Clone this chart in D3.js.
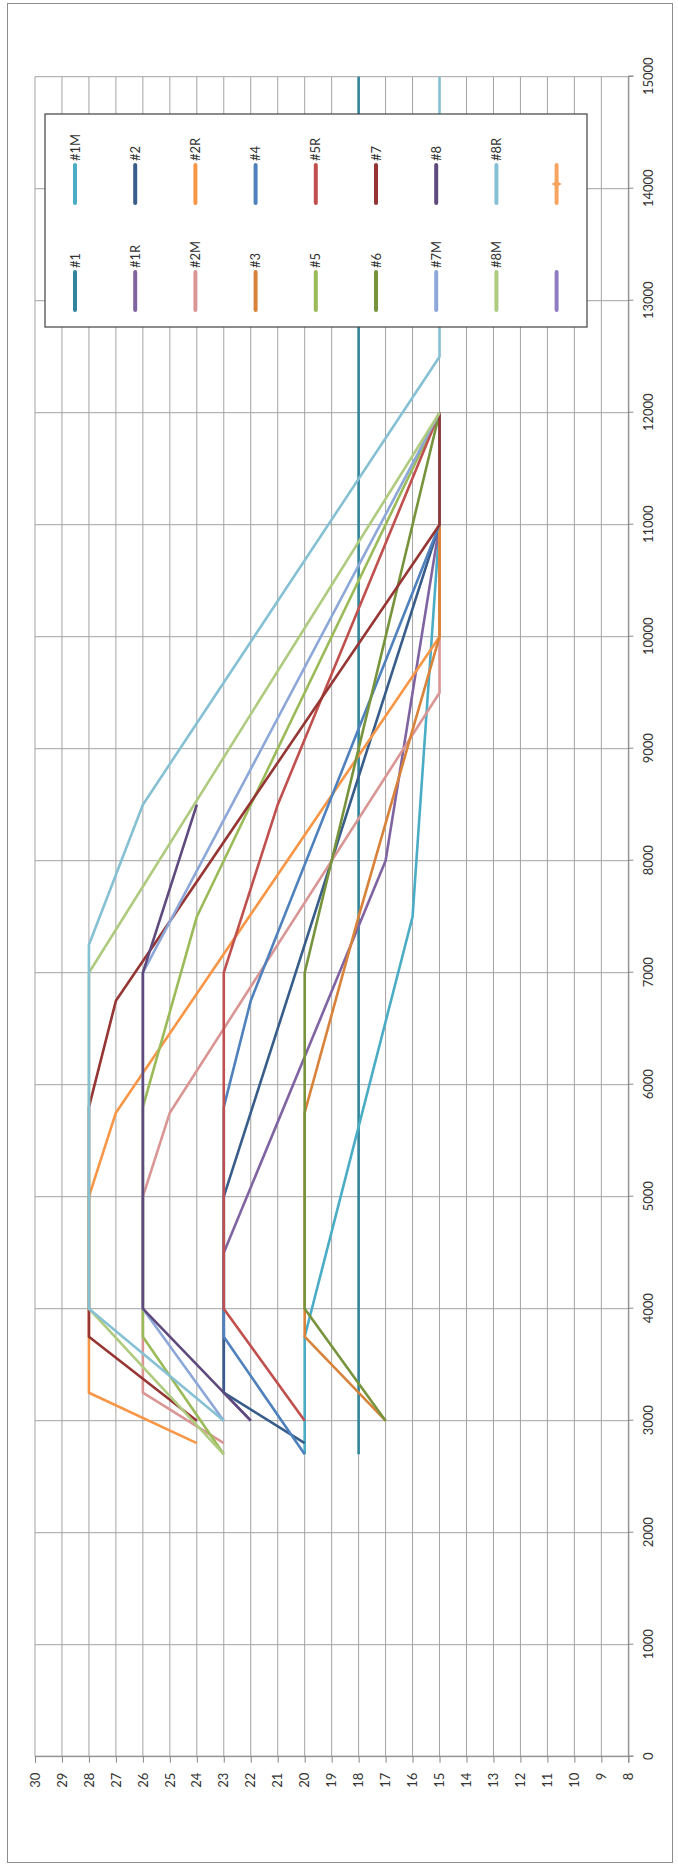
<!DOCTYPE html>
<html>
<head>
<meta charset="utf-8">
<script src="https://cdn.jsdelivr.net/npm/d3@7"></script>
<style>
  body { margin: 0; background: #fff; }
  text { font-family: Lato, "DejaVu Sans", sans-serif; fill: #333; }
</style>
</head>
<body>
<div id="chart"></div>
<script>
// DATA  (x = 0..15000 axis, value = 8..30 axis)
const xTickValues = [0, 1000, 2000, 3000, 4000, 5000, 6000, 7000, 8000, 9000, 10000, 11000, 12000, 13000, 14000, 15000];
const valueTicks = [8, 9, 10, 11, 12, 13, 14, 15, 16, 17, 18, 19, 20, 21, 22, 23, 24, 25, 26, 27, 28, 29, 30];

const seriesNames = ["#1", "#1M", "#1R", "#2", "#2M", "#2R", "#3", "#4", "#5", "#5R", "#6", "#7", "#7M", "#8", "#8M", "#8R", "", ""];

const s1  = [[2700, 18], [15000, 18]];
const s1M = [[2700, 20], [3750, 20], [7500, 16], [11000, 15], [12000, 15]];
const s1R = [[3000, 22], [3250, 23], [4500, 23], [8000, 17], [11000, 15], [12000, 15]];
const s2  = [[2800, 20], [3250, 23], [5000, 23], [6500, 21], [11000, 15], [12000, 15]];
const s2M = [[2800, 23], [3250, 26], [5000, 26], [5750, 25], [9500, 15], [12000, 15]];
const s2R = [[2800, 24], [3250, 28], [5000, 28], [5750, 27], [10000, 15], [12000, 15]];
const s3  = [[3000, 17], [3750, 20], [5750, 20], [7500, 18], [10000, 15], [12000, 15]];
const s4  = [[2700, 20], [3750, 23], [5800, 23], [6750, 22], [11000, 15], [12000, 15]];
const s5  = [[2700, 23], [3750, 26], [5800, 26], [7500, 24], [12000, 15]];
const s5R = [[3000, 20], [4000, 23], [7000, 23], [8500, 21], [12000, 15]];
const s6  = [[3000, 17], [4000, 20], [7000, 20], [12000, 15]];
const s7  = [[3000, 24], [3750, 28], [5800, 28], [6750, 27], [11000, 15], [12000, 15]];
const s7M = [[3000, 23], [4000, 26], [7000, 26], [12000, 15]];
const s8  = [[3000, 22], [3250, 23], [4000, 26], [7000, 26], [8500, 24]];
const s8M = [[2700, 23], [4000, 28], [7000, 28], [12000, 15]];
const s8R = [[3000, 23], [4000, 28], [7250, 28], [8500, 26], [12500, 15], [15000, 15]];
const s17 = [];
const s18 = [];

const seriesValues = [s1, s1M, s1R, s2, s2M, s2R, s3, s4, s5, s5R, s6, s7, s7M, s8, s8M, s8R, s17, s18];

const seriesColors = ["#31849B", "#4BACC6", "#8064A2", "#385D8A", "#D99694", "#F79646", "#D8823A", "#4F81BD", "#9BBB59",
  "#C0504D", "#77933C", "#963634", "#8DA8D8", "#5F4A7E", "#AFCB7F", "#86C0D3", "#8E7CC3", "#F6A561"];

// LAYOUT: chart is drawn normally then turned a quarter turn counter-clockwise
const W = 678, H = 1867;
const plotLen = 1680;     // length of the 0..15000 axis
const plotDepth = 593.3;  // length of the 8..30 axis
const originX = 35, originY = 1756.7;

const svg = d3.select("#chart").append("svg")
    .attr("width", W)
    .attr("height", H);

svg.append("rect")
    .attr("x", 7.5).attr("y", 3.5)
    .attr("width", 665).attr("height", 1859)
    .attr("fill", "#fff")
    .attr("stroke", "#8c8c8c");

const g = svg.append("g")
    .attr("transform", `translate(${originX}, ${originY}) rotate(-90)`);

const x = d3.scaleLinear().domain([0, 15000]).range([0, plotLen]);
const y = d3.scaleLinear().domain([8, 30]).range([plotDepth, 0]);

// gridlines
g.append("g").selectAll("line")
    .data(valueTicks)
    .join("line")
    .attr("x1", 0).attr("x2", plotLen)
    .attr("y1", d => y(d)).attr("y2", d => y(d))
    .attr("stroke", "#a3a3a3")
    .attr("stroke-width", 1);

g.append("g").selectAll("line")
    .data(xTickValues)
    .join("line")
    .attr("x1", d => x(d)).attr("x2", d => x(d))
    .attr("y1", 0).attr("y2", plotDepth)
    .attr("stroke", "#a3a3a3")
    .attr("stroke-width", 1);

// axes
const valueAxis = g.append("g")
    .call(d3.axisLeft(y).tickValues(valueTicks).tickSize(6).tickPadding(10));

const xAxis = g.append("g")
    .attr("transform", `translate(0, ${plotDepth})`)
    .call(d3.axisBottom(x).tickValues(xTickValues).tickSize(5).tickPadding(10).tickFormat(d3.format("d")));

[valueAxis, xAxis].forEach(a => {
    a.selectAll(".domain").attr("stroke", "#868686");
    a.selectAll(".tick line").attr("stroke", "#868686");
    a.selectAll("text").style("font-size", "13px").attr("fill", "#333");
});

// lines
const line = d3.line()
    .x(d => x(d[0]))
    .y(d => y(d[1]));

g.append("g").selectAll("path")
    .data(seriesValues)
    .join("path")
    .attr("d", d => d.length ? line(d) : null)
    .attr("fill", "none")
    .attr("stroke", (d, i) => seriesColors[i])
    .attr("stroke-width", 2.6)
    .attr("stroke-linejoin", "round");

// legend (in the unrotated frame: two columns, nine rows)
const legend = g.append("g");
legend.append("rect")
    .attr("x", 1429.7).attr("y", 10)
    .attr("width", 213).attr("height", 542)
    .attr("fill", "#fff")
    .attr("stroke", "#404040")
    .attr("stroke-width", 1.2);

const items = legend.selectAll("g.item")
    .data(seriesNames.map((name, i) => ({ name, i })))
    .join("g")
    .attr("class", "item")
    .attr("transform", d => {
        const row = Math.floor(d.i / 2);
        const col = d.i % 2;
        return `translate(${col ? 1553.7 : 1446.7}, ${40 + row * 60.2})`;
    });

items.append("line")
    .attr("x1", 0).attr("x2", 38)
    .attr("y1", 0).attr("y2", 0)
    .attr("stroke", d => seriesColors[d.i])
    .attr("stroke-width", 4)
    .attr("stroke-linecap", "round");

items.filter(d => d.i === 17).append("path")
    .attr("d", d3.symbol(d3.symbolDiamond, 30))
    .attr("transform", "translate(19,0)")
    .attr("fill", d => seriesColors[d.i]);

items.append("text")
    .attr("x", 42)
    .attr("y", 0)
    .attr("dy", "0.35em")
    .style("font-size", "13px")
    .text(d => d.name);
</script>
</body>
</html>
